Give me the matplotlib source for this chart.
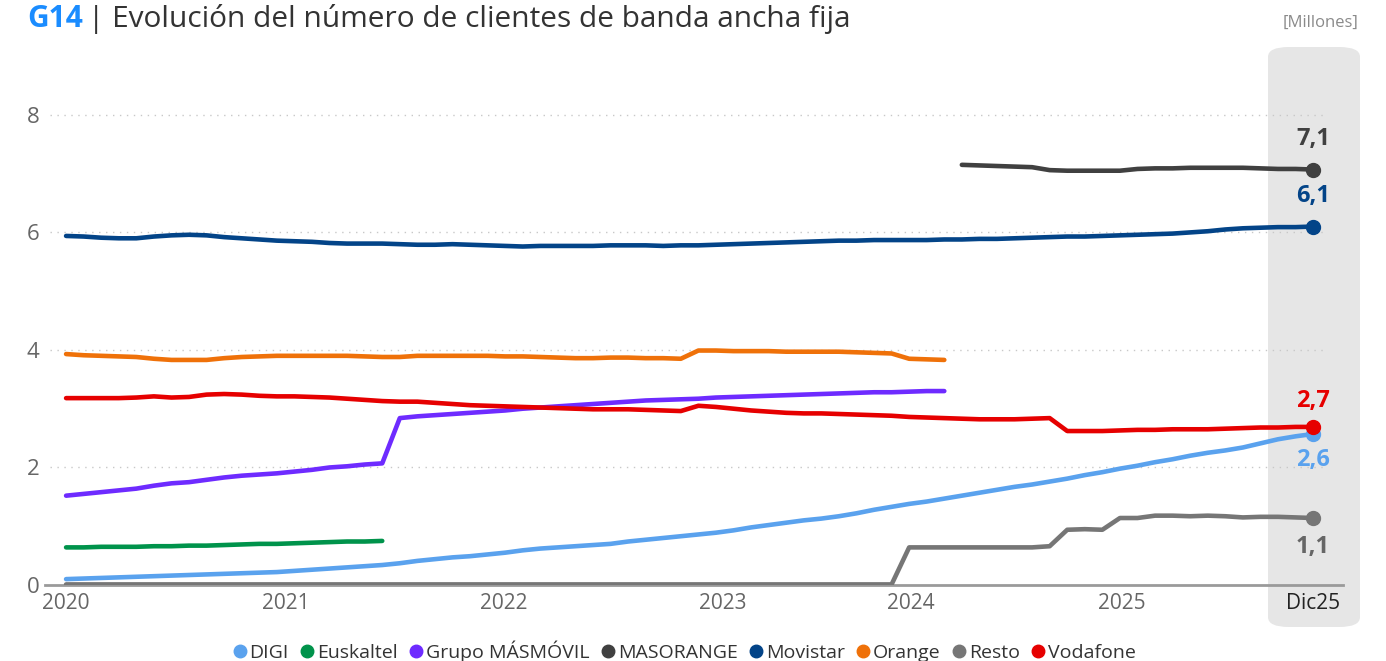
import numpy as np
import matplotlib.pyplot as plt
from matplotlib.lines import Line2D
from matplotlib.patches import FancyBboxPatch

plt.rcParams['font.family'] = ['Open Sans', 'DejaVu Sans']

# Meses: ene-2020 ... dic-2025 (72 puntos, índice 0..71)
meses = np.arange(72)

digi = [0.10, 0.11, 0.12, 0.13, 0.14, 0.15, 0.16, 0.17, 0.18, 0.19, 0.20, 0.21,
        0.22, 0.24, 0.26, 0.28, 0.30, 0.32, 0.34, 0.37, 0.41, 0.44, 0.47, 0.49,
        0.52, 0.55, 0.59, 0.62, 0.64, 0.66, 0.68, 0.70, 0.74, 0.77, 0.80, 0.83,
        0.86, 0.89, 0.93, 0.98, 1.02, 1.06, 1.10, 1.13, 1.17, 1.22, 1.28, 1.33,
        1.38, 1.42, 1.47, 1.52, 1.57, 1.62, 1.67, 1.71, 1.76, 1.81, 1.87, 1.92,
        1.98, 2.03, 2.09, 2.14, 2.20, 2.25, 2.29, 2.34, 2.41, 2.48, 2.53, 2.57]

euskaltel = [0.64, 0.64, 0.65, 0.65, 0.65, 0.66, 0.66, 0.67, 0.67, 0.68, 0.69, 0.70,
             0.70, 0.71, 0.72, 0.73, 0.74, 0.74, 0.75]

masmovil = [1.52, 1.55, 1.58, 1.61, 1.64, 1.69, 1.73, 1.75, 1.79, 1.83, 1.86, 1.88,
            1.90, 1.93, 1.96, 2.00, 2.02, 2.05, 2.07, 2.84, 2.87, 2.89, 2.91, 2.93,
            2.95, 2.97, 3.00, 3.02, 3.04, 3.06, 3.08, 3.10, 3.12, 3.14, 3.15, 3.16,
            3.17, 3.19, 3.20, 3.21, 3.22, 3.23, 3.24, 3.25, 3.26, 3.27, 3.28, 3.28,
            3.29, 3.30, 3.30]

# MASORANGE empieza en abril-2024 (índice 51)
masorange = [7.15, 7.14, 7.13, 7.12, 7.11, 7.06, 7.05, 7.05, 7.05, 7.05, 7.08, 7.09,
             7.09, 7.10, 7.10, 7.10, 7.10, 7.09, 7.08, 7.08, 7.07]

movistar = [5.94, 5.93, 5.91, 5.90, 5.90, 5.93, 5.95, 5.96, 5.95, 5.92, 5.90, 5.88,
            5.86, 5.85, 5.84, 5.82, 5.81, 5.81, 5.81, 5.80, 5.79, 5.79, 5.80, 5.79,
            5.78, 5.77, 5.76, 5.77, 5.77, 5.77, 5.77, 5.78, 5.78, 5.78, 5.77, 5.78,
            5.78, 5.79, 5.80, 5.81, 5.82, 5.83, 5.84, 5.85, 5.86, 5.86, 5.87, 5.87,
            5.87, 5.87, 5.88, 5.88, 5.89, 5.89, 5.90, 5.91, 5.92, 5.93, 5.93, 5.94,
            5.95, 5.96, 5.97, 5.98, 6.00, 6.02, 6.05, 6.07, 6.08, 6.09, 6.09, 6.10]

orange = [3.93, 3.91, 3.90, 3.89, 3.88, 3.85, 3.83, 3.83, 3.83, 3.86, 3.88, 3.89,
          3.90, 3.90, 3.90, 3.90, 3.90, 3.89, 3.88, 3.88, 3.90, 3.90, 3.90, 3.90,
          3.90, 3.89, 3.89, 3.88, 3.87, 3.86, 3.86, 3.87, 3.87, 3.86, 3.86, 3.85,
          3.99, 3.99, 3.98, 3.98, 3.98, 3.97, 3.97, 3.97, 3.97, 3.96, 3.95, 3.94,
          3.85, 3.84, 3.83]

resto = [0.01] * 48 + [0.64, 0.64, 0.64, 0.64, 0.64, 0.64, 0.64, 0.64, 0.66,
                       0.94, 0.95, 0.94, 1.14, 1.14, 1.18, 1.18, 1.17, 1.18,
                       1.17, 1.15, 1.16, 1.16, 1.15, 1.14]

vodafone = [3.18, 3.18, 3.18, 3.18, 3.19, 3.21, 3.19, 3.20, 3.24, 3.25, 3.24, 3.22,
            3.21, 3.21, 3.20, 3.19, 3.17, 3.15, 3.13, 3.12, 3.12, 3.10, 3.08, 3.06,
            3.05, 3.04, 3.03, 3.02, 3.01, 3.00, 2.99, 2.99, 2.99, 2.98, 2.97, 2.96,
            3.05, 3.03, 3.00, 2.97, 2.95, 2.93, 2.92, 2.92, 2.91, 2.90, 2.89, 2.88,
            2.86, 2.85, 2.84, 2.83, 2.82, 2.82, 2.82, 2.83, 2.84, 2.62, 2.62, 2.62,
            2.63, 2.64, 2.64, 2.65, 2.65, 2.65, 2.66, 2.67, 2.68, 2.68, 2.69, 2.69]

# etiquetas del eje x (posición en índice de mes, como en el original)
tick_pos = [0, 12.5, 24.9, 37.4, 48.1, 60.1, 71]
tick_lab = ['2020', '2021', '2022', '2023', '2024', '2025', 'Dic25']

series = [
    ('DIGI', digi, 0, '#5AA2EE'),
    ('Euskaltel', euskaltel, 0, '#00934B'),
    ('Grupo MÁSMÓVIL', masmovil, 0, '#6E2BFF'),
    ('MASORANGE', masorange, 51, '#404040'),
    ('Movistar', movistar, 0, '#034488'),
    ('Orange', orange, 0, '#EF7109'),
    ('Resto', resto, 0, '#767676'),
    ('Vodafone', vodafone, 0, '#E60000'),
]

# etiquetas finales (desplazamiento vertical en puntos)
etiquetas_fin = {'MASORANGE': 13, 'Movistar': 13, 'Vodafone': 10,
                 'DIGI': -10, 'Resto': -12}

W, H = 1386, 661
fig = plt.figure(figsize=(W / 100, H / 100), dpi=100)
ax = fig.add_axes([45 / W, (H - 585) / H, (1343 - 45) / W, (585 - 62) / H])
ax.set_zorder(1)
ax.patch.set_alpha(0)
ax.set_xlim(-1.2, 72.7)
ax.set_ylim(0, 8.9)

# caja gris de Dic25
caja = FancyBboxPatch((1268 / W, (H - 627) / H), (1360 - 1268) / W, (627 - 47) / H,
                      boxstyle='round,pad=0,rounding_size=0.015',
                      transform=fig.transFigure, facecolor='#E6E6E6',
                      edgecolor='none', zorder=0)
fig.patches.append(caja)

for y in [2, 4, 6, 8]:
    ax.plot([-0.9, 71.7], [y, y], color='#C8C8C8', lw=1, ls=(0, (1, 4)), zorder=1)

for nombre, vals, ini, col in series:
    x = meses[ini:ini + len(vals)]
    ax.plot(x, vals, color=col, lw=3.3, solid_capstyle='round', solid_joinstyle='round', zorder=3)
    if nombre in etiquetas_fin:
        ax.plot(x[-1], vals[-1], 'o', color=col, ms=10, zorder=4)
        dy = etiquetas_fin[nombre]
        txt_col = '#666666' if nombre == 'Resto' else col
        ax.annotate(f'{vals[-1]:.1f}'.replace('.', ','), (x[-1], vals[-1]),
                    xytext=(0, dy), textcoords='offset points', ha='center',
                    va='bottom' if dy > 0 else 'top', fontsize=17,
                    fontweight='bold', color=txt_col, zorder=5)

for s in ['top', 'right', 'left']:
    ax.spines[s].set_visible(False)
ax.spines['bottom'].set_color('#9A9A9A')
ax.spines['bottom'].set_linewidth(2)
ax.spines['bottom'].set_zorder(2)

ax.set_yticks([0, 2, 4, 6, 8])
ax.set_yticklabels(['0', '2', '4', '6', '8'])
ax.set_xticks(tick_pos)
ax.set_xticklabels(tick_lab)
ax.tick_params(axis='y', length=0, pad=4, labelsize=16, labelcolor='#666666')
ax.tick_params(axis='x', length=0, pad=6, labelsize=15, labelcolor='#666666')
ax.get_xticklabels()[-1].set_color('#222222')

# título en dos partes
t1 = fig.text(27 / W, 1 - 19 / H, 'G14', fontsize=21.5, fontweight='bold',
              color='#1A8CFF', va='center', ha='left')
fig.canvas.draw()
bb = t1.get_window_extent()
fig.text(bb.x1 / W + 5 / W, 1 - 19 / H, '| Evolución del número de clientes de banda ancha fija',
         fontsize=21.5, color='#333333', va='center', ha='left')
fig.text(1358 / W, 1 - 23 / H, '[Millones]', fontsize=12, color='#8A8A8A',
         va='center', ha='right')

handles = [Line2D([], [], ls='none', marker='o', ms=9, color=c) for _, _, _, c in series]
fig.legend(handles, [s[0] for s in series], loc='center', bbox_to_anchor=(683 / W, 1 - 651 / H),
           ncol=8, frameon=False, fontsize=14, handletextpad=0.0, columnspacing=0.45,
           handlelength=1.0, labelcolor='#333333')

fig.savefig('out.png', dpi=100)
